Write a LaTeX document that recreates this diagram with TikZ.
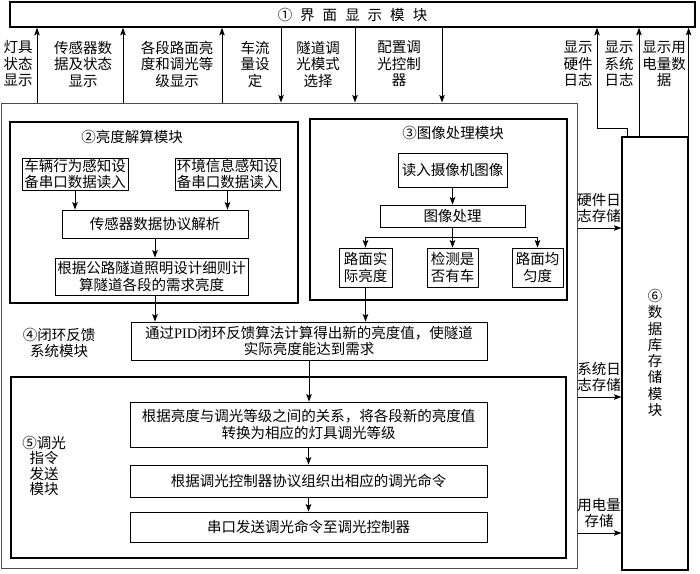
\documentclass[tikz,border=0pt]{standalone}
\usepackage{fontspec}
\setmainfont{Noto Sans CJK SC}
\newfontfamily\lat{Liberation Serif}
\usetikzlibrary{arrows.meta}
\begin{document}
\begin{tikzpicture}[x=1pt,y=-1pt,
  txt/.style={font=\fontsize{14.5}{16.5}\selectfont},
  box/.style={draw, line width=0.8pt, inner sep=1pt, align=center, font=\fontsize{14.5}{16.5}\selectfont},
  module/.style={draw, line width=1.6pt},
  arr/.style={line width=0.8pt, -{Stealth[length=7.5pt,width=5.5pt,inset=1.5pt]}},
  ln/.style={line width=0.8pt},
  lbl/.style={align=center, inner sep=0pt, font=\fontsize{14.5}{16.5}\selectfont}]
\useasboundingbox (0,0) rectangle (700,573);

% main outer box
\node[draw, line width=1pt, black!70, minimum width=576pt, minimum height=465pt] (M) at (289,335.5) {};
% top module
\node[module, minimum width=685pt, minimum height=25pt, txt] (T) at (352.5,14.5)
  {①\hspace{8pt}界\hspace{8pt}面\hspace{8pt}显\hspace{8pt}示\hspace{8pt}模\hspace{8pt}块};

% module 2
\node[module, minimum width=288pt, minimum height=181pt] (M2) at (154,212.5) {};
\node[lbl] (t2) at (132,137) {②亮度解算模块};
\node[box, minimum width=106pt, minimum height=32pt] (A1) at (75,174) {车辆行为感知设\\备串口数据读入};
\node[box, minimum width=105pt, minimum height=32pt] (A2) at (227.5,174) {环境信息感知设\\备串口数据读入};
\node[box, minimum width=186pt, minimum height=28pt] (A3) at (155,224) {传感器数据协议解析};
\node[box, minimum width=193pt, minimum height=37pt] (A4) at (151.5,276.5) {根据公路隧道照明设计细则计\\算隧道各段的需求亮度};

% module 3
\node[module, minimum width=257pt, minimum height=181pt] (M3) at (438.5,209.5) {};
\node[lbl] (t3) at (453,133) {③图像处理模块};
\node[box, minimum width=109pt, minimum height=34pt] (B1) at (452.5,170) {读入摄像机图像};
\node[box, minimum width=145pt, minimum height=22pt] (B2) at (452.5,216) {图像处理};
\node[box, minimum width=53pt, minimum height=39pt] (B3) at (365.5,267.5) {路面实\\际亮度};
\node[box, minimum width=51pt, minimum height=39pt] (B4) at (452.5,267.5) {检测是\\否有车};
\node[box, minimum width=51pt, minimum height=39pt] (B5) at (537.5,267.5) {路面均\\匀度};

% module 4
\node[box, minimum width=356pt, minimum height=38pt] (C) at (309,341)
  {通过{\lat PID}闭环反馈算法计算得出新的亮度值，使隧道\\实际亮度能达到需求};
\node[lbl] (t4) at (59,343) {④闭环反馈\\系统模块};

% module 5
\node[module, minimum width=555pt, minimum height=181pt] (M5) at (288.5,467.5) {};
\node[lbl, font=\fontsize{14.5}{15.5}\selectfont] (t5) at (44,466) {⑤调光\\指令\\发送\\模块};
\node[box, minimum width=357pt, minimum height=45pt] (D1) at (308.5,424.5)
  {根据亮度与调光等级之间的关系，将各段新的亮度值\\转换为相应的灯具调光等级};
\node[box, minimum width=357pt, minimum height=32pt] (D2) at (308.5,481) {根据调光控制器协议组织出相应的调光命令};
\node[box, minimum width=357pt, minimum height=30pt] (D3) at (308.5,527) {串口发送调光命令至调光控制器};

% module 6
\node[draw, line width=1.2pt, minimum width=66pt, minimum height=433pt] (M6) at (655,353.5) {};
\node[lbl, font=\fontsize{14.5}{16.3}\selectfont] (t6) at (655,353) {⑥\\数\\据\\库\\存\\储\\模\\块};

% connectors inside module 2
\draw[arr] (A1.south) -- (A1.south |- A3.north);
\draw[arr] (A2.south) -- (A2.south |- A3.north);
\draw[arr] (A3.south) -- (A3.south |- A4.north);
\draw[arr] (A3.south |- A4.south) -- (A3.south |- C.north);

% connectors inside module 3
\draw[arr] (B1.south) -- (B2.north);
\coordinate (br) at (452.5,237);
\draw[ln] (B2.south) -- (br);
\draw[ln] (B3.north |- br) -- (B5.north |- br);
\draw[arr] (B3.north |- br) -- (B3.north);
\draw[arr] (br) -- (B4.north);
\draw[arr] (B5.north |- br) -- (B5.north);
\draw[arr] (B3.south) -- (B3.south |- C.north);

% module 4 -> 5
\draw[arr] (C.south) -- (C.south |- D1.north);
\draw[arr] (D1.south) -- (D2.north);
\draw[arr] (D2.south) -- (D3.north);

% top arrows
\coordinate (u1) at (37,0);
\coordinate (u2) at (123,0);
\coordinate (u3) at (222,0);
\coordinate (d1) at (281,0);
\coordinate (d2) at (355,0);
\coordinate (d3) at (442,0);
\draw[arr] (u1 |- M.north) -- (u1 |- T.south);
\draw[arr] (u2 |- M.north) -- (u2 |- T.south);
\draw[arr] (u3 |- M.north) -- (u3 |- T.south);
\draw[arr] (d1 |- T.south) -- (d1 |- M.north);
\draw[arr] (d2 |- T.south) -- (d2 |- M.north);
\draw[arr] (d3 |- T.south) -- (d3 |- M.north);
\node[lbl] (l1) at (18,64) {灯具\\状态\\显示};
\node[lbl] (l2) at (83,64) {传感器数\\据及状态\\显示};
\node[lbl] (l3) at (177,64) {各段路面亮\\度和调光等\\级显示};
\node[lbl] (l4) at (255,64) {车流\\量设\\定};
\node[lbl] (l5) at (318,64) {隧道调\\光模式\\选择};
\node[lbl] (l6) at (399,64) {配置调\\光控制\\器};

% right top arrows (module 6 -> display)
\coordinate (r1) at (597,128);
\coordinate (r1b) at (627,128);
\coordinate (r2) at (639,0);
\draw[arr] (r1b |- M6.north) -- (r1b) -- (r1) -- (r1 |- T.south);
\draw[arr] (r2 |- M6.north) -- (r2 |- T.south);
\draw[arr] (M6.north east) -- (M6.north east |- T.south);
\node[lbl] (l7) at (578,64) {显示\\硬件\\日志};
\node[lbl] (l8) at (619,64) {显示\\系统\\日志};
\node[lbl] (l9) at (664,64) {显示用\\电量数\\据};

% arrows to module 6
\coordinate (h1) at (0,228);
\coordinate (h2) at (0,397);
\coordinate (h3) at (0,533);
\draw[arr] (M.east |- h1) -- (M6.west |- h1);
\draw[arr] (M.east |- h2) -- (M6.west |- h2);
\draw[arr] (M.east |- h3) -- (M6.west |- h3);
\node[lbl] (s1) at (599,208) {硬件日\\志存储};
\node[lbl] (s2) at (599,377) {系统日\\志存储};
\node[lbl] (s3) at (599,513) {用电量\\存储};
\end{tikzpicture}
\end{document}
